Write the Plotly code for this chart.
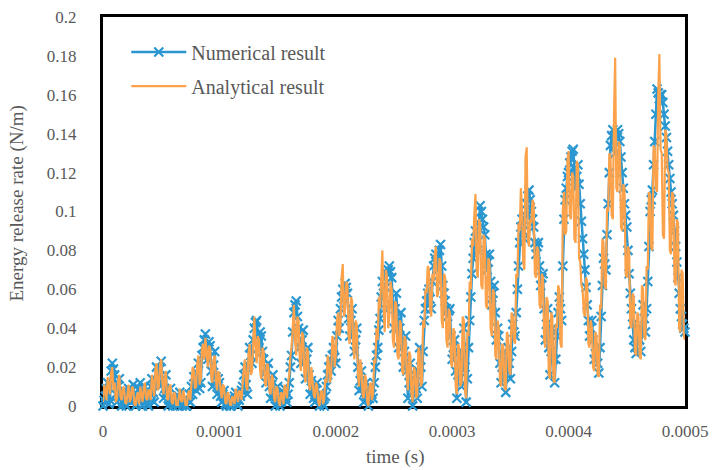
import plotly.graph_objects as go

# sample times in microseconds (1 us step)
time_us = list(range(0, 501))

numerical = [
    0.000,0.003,0.005,0.009,0.012,0.001,0.003,0.018,0.022,0.019,0.016,0.006,0.002,0.010,0.014,0.004,0.000,0.002,0.008,0.001,
    0.000,0.006,0.009,0.004,0.002,0.008,0.011,0.003,0.000,0.001,0.004,0.009,0.012,0.005,0.000,0.004,0.010,0.006,0.001,0.000,
    0.004,0.010,0.014,0.007,0.002,0.013,0.020,0.017,0.012,0.019,0.023,0.011,0.004,0.009,0.016,0.006,0.000,0.003,0.009,0.002,
    0.000,0.002,0.004,0.001,0.000,0.005,0.007,0.002,0.000,0.001,0.003,0.000,0.000,0.003,0.006,0.002,0.010,0.006,0.015,0.011,
    0.008,0.017,0.022,0.009,0.012,0.026,0.030,0.034,0.037,0.029,0.024,0.033,0.031,0.018,0.010,0.021,0.028,0.015,0.006,0.014,
    0.012,0.005,0.002,0.006,0.008,0.001,0.000,0.003,0.004,0.000,0.000,0.002,0.002,0.005,0.007,0.001,0.000,0.003,0.005,0.008,
    0.010,0.016,0.020,0.011,0.006,0.021,0.030,0.026,0.022,0.034,0.040,0.043,0.044,0.036,0.030,0.038,0.036,0.028,0.024,0.017,
    0.012,0.019,0.022,0.010,0.004,0.011,0.016,0.005,0.000,0.006,0.010,0.003,0.000,0.002,0.004,0.007,0.009,0.004,0.002,0.006,
    0.012,0.020,0.026,0.038,0.048,0.052,0.054,0.046,0.040,0.030,0.022,0.034,0.039,0.025,0.014,0.024,0.030,0.016,0.006,0.013,
    0.010,0.004,0.002,0.008,0.012,0.004,0.000,0.003,0.006,0.001,0.000,0.005,0.010,0.016,0.020,0.024,0.018,0.026,0.030,0.025,
    0.022,0.036,0.044,0.040,0.050,0.056,0.060,0.055,0.063,0.061,0.058,0.045,0.036,0.044,0.050,0.038,0.028,0.034,0.040,0.020,
    0.008,0.013,0.018,0.009,0.002,0.007,0.012,0.004,0.000,0.004,0.010,0.006,0.004,0.012,0.020,0.026,0.030,0.039,0.045,0.056,
    0.064,0.058,0.050,0.061,0.068,0.070,0.072,0.069,0.066,0.052,0.040,0.050,0.058,0.044,0.030,0.040,0.048,0.034,0.020,0.028,
    0.036,0.018,0.004,0.012,0.022,0.010,0.000,0.008,0.016,0.009,0.004,0.018,0.030,0.020,0.010,0.028,0.044,0.050,0.054,0.058,
    0.060,0.055,0.050,0.064,0.072,0.076,0.078,0.074,0.070,0.080,0.083,0.072,0.062,0.058,0.054,0.050,0.046,0.049,0.050,0.036,
    0.024,0.030,0.034,0.018,0.004,0.016,0.028,0.020,0.010,0.026,0.040,0.020,0.002,0.014,0.030,0.044,0.056,0.068,0.076,0.084,
    0.090,0.086,0.080,0.094,0.103,0.100,0.096,0.092,0.088,0.078,0.070,0.074,0.078,0.064,0.052,0.058,0.062,0.048,0.034,0.040,
    0.036,0.022,0.012,0.020,0.026,0.015,0.007,0.018,0.030,0.022,0.014,0.028,0.042,0.038,0.036,0.048,0.060,0.072,0.084,0.092,
    0.096,0.090,0.086,0.098,0.104,0.108,0.111,0.106,0.100,0.096,0.092,0.084,0.078,0.082,0.084,0.072,0.062,0.066,0.068,0.050,
    0.034,0.042,0.050,0.030,0.016,0.028,0.040,0.024,0.012,0.024,0.036,0.048,0.056,0.050,0.044,0.072,0.096,0.106,0.112,0.118,
    0.120,0.125,0.128,0.131,0.132,0.122,0.112,0.118,0.124,0.114,0.104,0.095,0.086,0.078,0.070,0.061,0.052,0.044,0.036,0.040,
    0.044,0.034,0.024,0.027,0.030,0.022,0.017,0.030,0.046,0.062,0.076,0.073,0.070,0.088,0.104,0.120,0.134,0.139,0.142,0.136,
    0.130,0.138,0.142,0.140,0.136,0.128,0.120,0.112,0.104,0.098,0.092,0.080,0.068,0.058,0.050,0.042,0.034,0.030,0.027,0.033,
    0.040,0.034,0.028,0.040,0.052,0.045,0.038,0.050,0.064,0.082,0.100,0.106,0.111,0.124,0.136,0.150,0.163,0.161,0.158,0.160,
    0.160,0.156,0.150,0.144,0.138,0.131,0.124,0.117,0.110,0.104,0.098,0.090,0.082,0.074,0.066,0.058,0.050,0.046,0.042,0.040,
    0.038,
]

analytical = [
    0.002,0.011,0.008,0.003,0.015,0.009,0.006,0.017,0.020,0.008,0.012,0.002,0.004,0.013,0.016,0.005,0.003,0.009,0.010,0.002,
    0.001,0.006,0.011,0.002,0.004,0.010,0.009,0.001,0.000,0.005,0.007,0.001,0.010,0.006,0.002,0.009,0.012,0.004,0.003,0.008,
    0.008,0.003,0.016,0.011,0.005,0.019,0.022,0.008,0.010,0.021,0.024,0.012,0.006,0.015,0.018,0.004,0.003,0.010,0.011,0.002,
    0.001,0.007,0.006,0.000,0.000,0.004,0.009,0.003,0.002,0.008,0.005,0.000,0.000,0.006,0.008,0.003,0.012,0.020,0.018,0.009,
    0.010,0.022,0.026,0.011,0.014,0.029,0.032,0.024,0.035,0.028,0.020,0.031,0.030,0.015,0.012,0.024,0.026,0.013,0.008,0.018,
    0.016,0.008,0.004,0.011,0.010,0.002,0.001,0.007,0.006,0.001,0.000,0.005,0.004,0.001,0.009,0.006,0.002,0.008,0.007,0.003,
    0.012,0.020,0.024,0.010,0.008,0.027,0.032,0.016,0.018,0.038,0.046,0.030,0.022,0.036,0.034,0.018,0.014,0.030,0.028,0.012,
    0.010,0.022,0.020,0.008,0.006,0.016,0.014,0.004,0.002,0.010,0.009,0.002,0.000,0.007,0.006,0.001,0.011,0.008,0.004,0.012,
    0.016,0.026,0.030,0.040,0.052,0.034,0.026,0.046,0.044,0.024,0.018,0.038,0.036,0.016,0.012,0.030,0.028,0.010,0.008,0.020,
    0.014,0.006,0.004,0.012,0.010,0.002,0.000,0.007,0.008,0.001,0.003,0.014,0.012,0.026,0.022,0.012,0.016,0.036,0.034,0.020,
    0.026,0.044,0.048,0.036,0.040,0.066,0.073,0.046,0.050,0.064,0.062,0.036,0.032,0.056,0.054,0.030,0.024,0.044,0.042,0.016,
    0.010,0.024,0.020,0.006,0.004,0.016,0.014,0.002,0.000,0.010,0.012,0.003,0.006,0.024,0.022,0.040,0.034,0.056,0.050,0.068,
    0.080,0.052,0.038,0.070,0.066,0.040,0.046,0.064,0.060,0.034,0.030,0.054,0.052,0.026,0.024,0.044,0.042,0.018,0.016,0.036,
    0.034,0.014,0.008,0.028,0.026,0.006,0.002,0.020,0.018,0.004,0.006,0.030,0.028,0.010,0.012,0.044,0.040,0.060,0.058,0.072,
    0.070,0.050,0.046,0.068,0.064,0.078,0.082,0.056,0.058,0.076,0.074,0.044,0.040,0.068,0.066,0.034,0.030,0.050,0.048,0.022,
    0.020,0.040,0.038,0.010,0.006,0.032,0.030,0.010,0.012,0.046,0.044,0.008,0.004,0.038,0.036,0.064,0.060,0.086,0.082,0.098,
    0.109,0.070,0.066,0.096,0.094,0.062,0.060,0.088,0.086,0.052,0.050,0.076,0.074,0.040,0.036,0.060,0.058,0.026,0.024,0.044,
    0.040,0.012,0.010,0.032,0.030,0.009,0.008,0.038,0.036,0.018,0.016,0.048,0.046,0.034,0.032,0.068,0.066,0.094,0.090,0.112,
    0.100,0.074,0.070,0.128,0.133,0.086,0.082,0.096,0.094,0.106,0.104,0.068,0.066,0.082,0.080,0.052,0.050,0.068,0.066,0.034,
    0.030,0.056,0.054,0.016,0.014,0.048,0.046,0.013,0.012,0.042,0.040,0.062,0.060,0.032,0.030,0.100,0.110,0.088,0.090,0.126,
    0.131,0.098,0.096,0.120,0.118,0.086,0.084,0.126,0.124,0.076,0.074,0.062,0.060,0.048,0.046,0.066,0.064,0.032,0.030,0.044,
    0.040,0.020,0.018,0.038,0.036,0.016,0.015,0.052,0.050,0.086,0.084,0.062,0.060,0.102,0.100,0.130,0.128,0.098,0.096,0.150,
    0.179,0.112,0.110,0.136,0.134,0.092,0.090,0.114,0.112,0.068,0.066,0.082,0.080,0.042,0.040,0.058,0.056,0.028,0.026,0.048,
    0.046,0.026,0.024,0.062,0.060,0.036,0.034,0.072,0.070,0.110,0.108,0.082,0.080,0.134,0.132,0.112,0.110,0.160,0.181,0.132,
    0.130,0.088,0.086,0.142,0.140,0.122,0.120,0.080,0.078,0.110,0.108,0.064,0.062,0.096,0.094,0.040,0.038,0.070,0.068,0.036,
    0.034,
]

x_tick_vals = [0, 0.0001, 0.0002, 0.0003, 0.0004, 0.0005]
x_tick_text = ["0", "0.0001", "0.0002", "0.0003", "0.0004", "0.0005"]
y_tick_vals = [0, 0.02, 0.04, 0.06, 0.08, 0.1, 0.12, 0.14, 0.16, 0.18, 0.2]
y_tick_text = ["0", "0.02", "0.04", "0.06", "0.08", "0.1", "0.12", "0.14", "0.16", "0.18", "0.2"]

time_s = [t * 1e-6 for t in time_us]

BLUE = "#2A97D1"
ORANGE = "#FBA24B"
GRAY = "#595959"
FONT = "Liberation Serif"

fig = go.Figure()
fig.add_trace(go.Scatter(
    x=time_s, y=numerical, name="Numerical result", mode="lines+markers",
    line=dict(color=BLUE, width=2.5),
    marker=dict(symbol="x-thin", size=9, color=BLUE, line=dict(color=BLUE, width=2.2)),
    cliponaxis=False, legendgroup="a",
))
fig.add_trace(go.Scatter(
    x=time_s, y=analytical, name="Analytical result", mode="lines",
    line=dict(color=ORANGE, width=2.2),
    cliponaxis=False, legendgroup="b",
))

fig.update_layout(
    width=716, height=470,
    margin=dict(l=103, r=31, t=17, b=64, autoexpand=False),
    paper_bgcolor="white", plot_bgcolor="white",
    font=dict(family=FONT, color=GRAY, size=17),
    showlegend=True,
    legend=dict(x=0.04, y=0.96, xanchor="left", yanchor="top", itemwidth=55,
                bgcolor="rgba(255,255,255,0)", font=dict(family=FONT, size=20, color=GRAY),
                tracegroupgap=5),
    xaxis=dict(range=[0, 0.0005], tickvals=x_tick_vals, ticktext=x_tick_text,
               showgrid=False, zeroline=False, showline=True, mirror=True,
               linecolor="black", linewidth=3, ticks="outside", ticklen=8,
               tickcolor="rgba(0,0,0,0)", layer="below traces", automargin=False,
               tickfont=dict(family=FONT, size=17, color=GRAY)),
    yaxis=dict(range=[0, 0.2], tickvals=y_tick_vals, ticktext=y_tick_text,
               showgrid=False, zeroline=False, showline=True, mirror=True,
               linecolor="black", linewidth=3, ticks="outside", ticklen=20,
               tickcolor="rgba(0,0,0,0)", layer="below traces", automargin=False,
               tickfont=dict(family=FONT, size=17, color=GRAY)),
    annotations=[
        dict(text="time (s)", xref="paper", yref="paper", x=0.502, y=-0.131,
             xanchor="center", yanchor="middle", showarrow=False,
             font=dict(family=FONT, size=19, color=GRAY)),
        dict(text="Energy release rate (N/m)", xref="paper", yref="paper", x=-0.148, y=0.52,
             xanchor="center", yanchor="middle", showarrow=False, textangle=-90,
             font=dict(family=FONT, size=19, color=GRAY)),
    ],
)

# remove the page's default body margin so the figure sits at the window origin
fig.write_html("out.html", config={"displayModeBar": False},
               post_script="document.body.style.margin='0';document.body.style.overflow='hidden';")
